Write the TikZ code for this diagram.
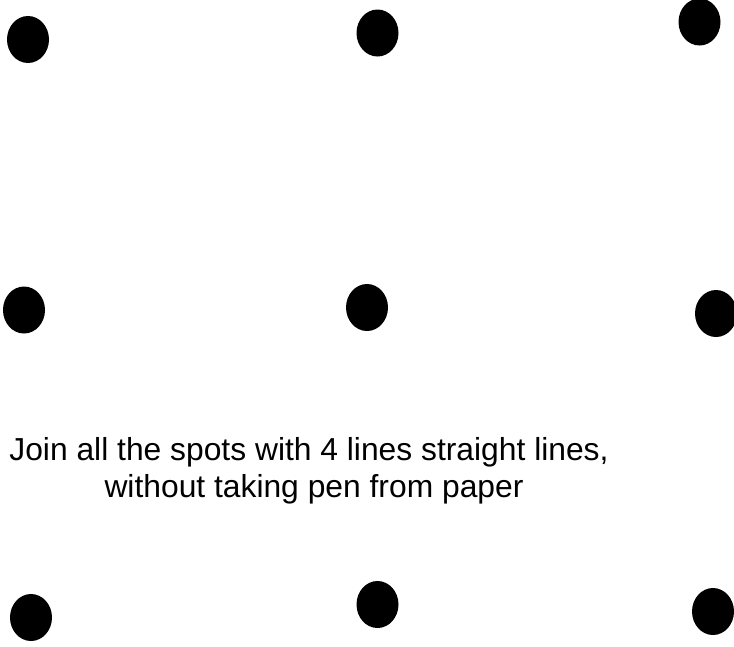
\documentclass[tikz,border=0pt]{standalone}
\usepackage{fontspec}
\setmainfont{Liberation Sans}
\usetikzlibrary{shapes.geometric}
\tikzset{
  spot/.style={ellipse, fill=black, draw=none, inner sep=0pt, minimum width=42pt, minimum height=47pt},
  caption/.style={anchor=base, inner sep=0pt, font=\fontsize{31.8}{36.6}\selectfont}
}
\begin{document}
\begin{tikzpicture}[x=1pt,y=-1pt]
\useasboundingbox (0,0) rectangle (734,646);
\node[spot] (a1) at (28,39.5) {};
\node[spot] (a2) at (377.5,33) {};
\node[spot] (a3) at (699.5,22) {};
\node[spot] (b1) at (24,310) {};
\node[spot] (b2) at (367,307.5) {};
\node[spot] (b3) at (716,313.5) {};
\node[spot] (c1) at (31,617.5) {};
\node[spot] (c2) at (377.5,604.5) {};
\node[spot] (c3) at (713,611.5) {};
\node[caption] (t1) at (309,460.5) {Join all the spots with 4 lines straight lines,};
\node[caption] (t2) at (314,497) {without taking pen from paper};
\end{tikzpicture}
\end{document}
